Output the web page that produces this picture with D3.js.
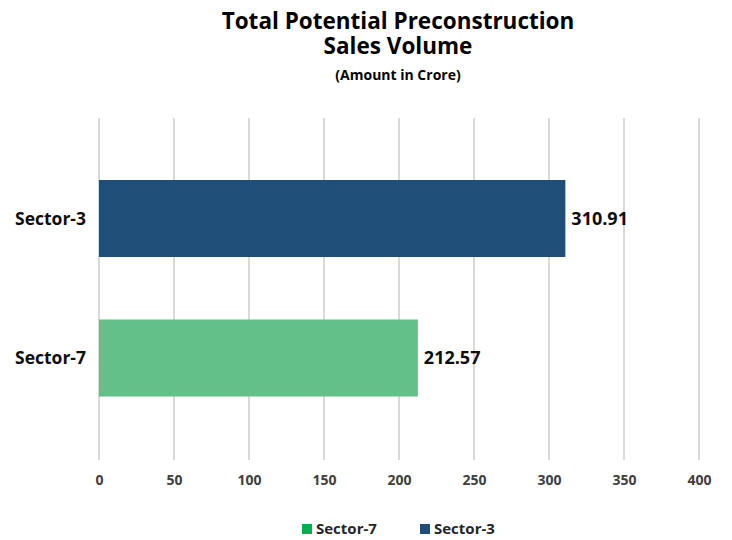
<!DOCTYPE html>
<html><head><meta charset="utf-8">
<script src="https://cdn.jsdelivr.net/npm/d3@7"></script>
<style>body{margin:0;background:#fff;} text{font-family:"Open Sans",sans-serif;}</style>
</head><body><svg id="c" width="732" height="540"></svg>
<script>
const categories = ["Sector-3", "Sector-7"];
const values = [310.91, 212.57];
const legendOrder = ["Sector-7", "Sector-3"];
const tickValues = [0, 50, 100, 150, 200, 250, 300, 350, 400];
const titleLines = ["Total Potential Preconstruction", "Sales Volume"];
const barColors = {"Sector-3": "#1F4E79", "Sector-7": "#63C087"};
const legendColors = {"Sector-3": "#1F4E79", "Sector-7": "#00B050"};

const svg = d3.select("#c");
const x = d3.scaleLinear().domain([0, 400]).range([99, 699]);
const y = d3.scalePoint().domain(categories).range([218.5, 358]);

// gridlines
svg.append("g").selectAll("line").data(tickValues).join("line")
  .attr("x1", d => x(d)).attr("x2", d => x(d)).attr("y1", 118).attr("y2", 460)
  .attr("stroke", "#D9D9D9").attr("stroke-width", 2);

// axis labels
const ax = d3.axisBottom(x).tickValues(tickValues).tickSize(0).tickPadding(0);
const g = svg.append("g").attr("transform", "translate(0,475)").call(ax);
g.select(".domain").remove();
g.selectAll("text").attr("font-family", "'Open Sans',sans-serif").attr("font-size", 14)
  .attr("font-weight", "bold").attr("fill", "#404040");

// bars
const data = categories.map((c, i) => ({c, v: values[i]}));
const bh = 77;
svg.append("g").selectAll("rect").data(data).join("rect")
  .attr("x", x(0)).attr("y", d => y(d.c) - bh/2)
  .attr("width", d => x(d.v) - x(0)).attr("height", bh)
  .attr("fill", d => barColors[d.c]);

// value labels
svg.append("g").selectAll("text").data(data).join("text")
  .attr("x", d => x(d.v) + 6).attr("y", d => y(d.c))
  .attr("dy", "0.35em").attr("font-size", 18).attr("font-weight", "bold").attr("fill", "#0D0D0D")
  .text(d => d.v.toFixed(2));

// category labels
svg.append("g").selectAll("text").data(data).join("text")
  .attr("x", 86).attr("y", d => y(d.c))
  .attr("dy", "0.35em").attr("text-anchor", "end").attr("font-size", 17.5).attr("font-weight", "bold").attr("fill", "#0D0D0D")
  .text(d => d.c);

// title (single text element with two lines)
const title = svg.append("text").attr("x", 398).attr("y", 29).attr("text-anchor", "middle")
  .attr("font-size", 22.5).attr("font-weight", "bold").attr("fill", "#000");
title.selectAll("tspan").data(titleLines).join("tspan")
  .attr("x", 398).attr("dy", (d, i) => i === 0 ? 0 : 25).text(d => d);
svg.append("text").attr("x", 398).attr("y", 80).attr("text-anchor", "middle")
  .attr("font-size", 14).attr("font-weight", "bold").attr("fill", "#000").text("(Amount in Crore)");

// legend
const legX = {"Sector-7": 302, "Sector-3": 420};
const lg = svg.append("g").selectAll("g").data(legendOrder).join("g")
  .attr("transform", d => `translate(${legX[d]},529)`);
lg.append("rect").attr("x", 0).attr("y", -5).attr("width", 10).attr("height", 10).attr("fill", d => legendColors[d]);
lg.append("text").attr("x", 14).attr("y", 0).attr("dy", "0.35em").attr("font-size", 15).attr("font-weight", "bold")
  .attr("fill", "#262626").text(d => d);
</script></body></html>
